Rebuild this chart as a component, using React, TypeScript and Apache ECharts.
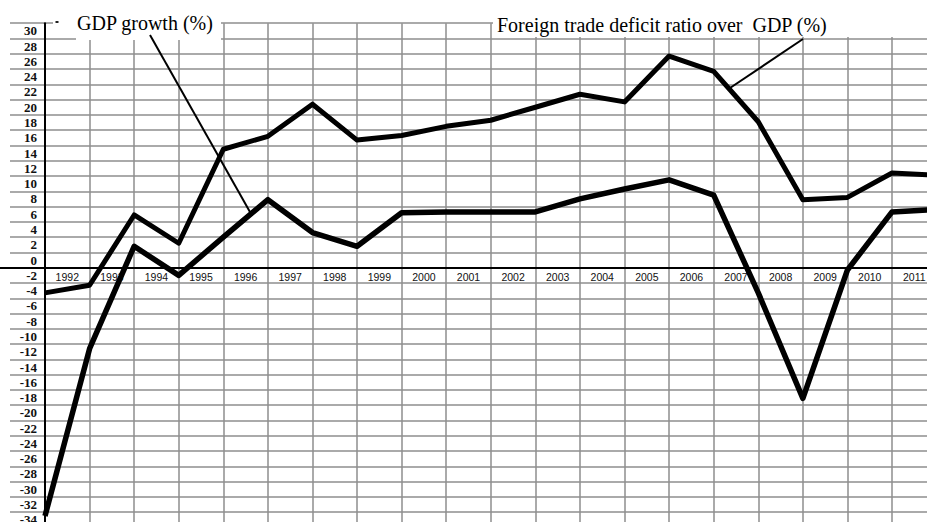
import React, { useEffect, useRef } from "react";
import * as echarts from "echarts";

// Category bands (year labels on the x axis)
const years = [
  "1992", "1993", "1994", "1995", "1996", "1997", "1998", "1999", "2000", "2001",
  "2002", "2003", "2004", "2005", "2006", "2007", "2008", "2009", "2010", "2011",
];
// Points are drawn on the band boundaries (start of each year, plus the end of 2011)
const boundaryPoints = [
  "1992", "1993", "1994", "1995", "1996", "1997", "1998", "1999", "2000", "2001",
  "2002", "2003", "2004", "2005", "2006", "2007", "2008", "2009", "2010", "2011", "2012",
];
// Foreign trade deficit ratio over GDP (%), upper line
const deficitRatio = [
  -4.3, -3.3, 5.9, 2.2, 14.5, 16.2, 20.4, 15.7, 16.3, 17.5,
  18.3, 20.0, 21.7, 20.7, 26.7, 24.7, 18.1, 7.9, 8.2, 11.4, 11.1,
];
// GDP growth (%), lower line
const gdpGrowth = [
  -33.5, -11.6, 1.8, -2.0, 3.0, 7.9, 3.6, 1.8, 6.2, 6.3,
  6.3, 6.3, 8.0, 9.3, 10.5, 8.5, -4.3, -18.1, -1.3, 6.3, 6.6,
];
// Y tick labels
const yTickLabels = [
  -34, -32, -30, -28, -26, -24, -22, -20, -18, -16, -14, -12, -10, -8, -6, -4, -2,
  0, 2, 4, 6, 8, 10, 12, 14, 16, 18, 20, 22, 24, 26, 28, 30,
];

const GRID_COLOR = "#8e8e8e";

export default function App() {
  const ref = useRef<HTMLDivElement>(null);

  useEffect(() => {
    if (!ref.current) return;
    const chart = echarts.init(ref.current, undefined, { renderer: "svg" });
    const serif = '"Liberation Serif", "Times New Roman", serif';
    const sans = '"Liberation Sans", Arial, sans-serif';
    const noBounds = { outerBoundsMode: "none", containLabel: false };
    const hiddenY = (gridIndex: number) => ({
      gridIndex,
      type: "value",
      min: 0,
      max: 1,
      show: false,
    });

    chart.setOption({
      animation: false,
      backgroundColor: "#ffffff",
      grid: [
        // 0: horizontal grid lines (extend left of the axis)
        { left: 10, right: -10, top: 23.2, bottom: -5.46, ...noBounds },
        // 1: plot area (series, vertical grid lines, y axis)
        { left: 45, right: -9.6, top: 23.2, bottom: -5.46, ...noBounds },
        // 2: zero line (its bottom edge sits on value 0)
        { left: 0, right: -10, top: 100, bottom: 254.3, ...noBounds },
        // 3: year labels under the zero line
        { left: 45, right: -9.6, top: 100, bottom: 254.3, ...noBounds },
      ],
      xAxis: [
        { gridIndex: 0, type: "value", min: 0, max: 1, show: false },
        {
          gridIndex: 1,
          type: "category",
          data: years,
          boundaryGap: true,
          axisLine: { show: false, onZero: false },
          axisTick: { show: false },
          axisLabel: { show: false },
          splitLine: { show: true, interval: 0, lineStyle: { color: GRID_COLOR, width: 1.5 } },
        },
        {
          gridIndex: 1,
          type: "category",
          data: boundaryPoints,
          boundaryGap: false,
          show: false,
          axisLine: { onZero: false },
        },
        {
          gridIndex: 2,
          type: "value",
          min: 0,
          max: 1,
          position: "bottom",
          axisLine: { show: true, onZero: false, lineStyle: { color: "#000", width: 2 } },
          axisTick: { show: false },
          axisLabel: { show: false },
          splitLine: { show: false },
        },
        {
          gridIndex: 3,
          type: "category",
          data: years,
          boundaryGap: true,
          position: "bottom",
          axisLine: { show: false, onZero: false },
          axisTick: { show: false },
          splitLine: { show: false },
          axisLabel: {
            interval: 0,
            margin: 4,
            fontFamily: sans,
            fontSize: 10.5,
            color: "#111",
          },
        },
      ],
      yAxis: [
        {
          gridIndex: 0,
          type: "value",
          min: -34,
          max: 32,
          interval: 2,
          axisLine: { show: false },
          axisTick: { show: false },
          axisLabel: { show: false },
          splitLine: { show: true, lineStyle: { color: GRID_COLOR, width: 1.5 } },
        },
        {
          gridIndex: 1,
          type: "value",
          min: -34,
          max: 32,
          interval: 2,
          axisLine: { show: true, onZero: false, lineStyle: { color: "#000", width: 2 } },
          axisTick: { show: false },
          axisLabel: { show: false },
          splitLine: { show: false },
        },
        {
          gridIndex: 1,
          type: "value",
          position: "left",
          min: -35,
          max: 31,
          axisLine: { show: false, onZero: false },
          axisTick: { show: false },
          splitLine: { show: false },
          axisLabel: {
            customValues: yTickLabels,
            margin: 8,
            fontFamily: serif,
            fontWeight: "bold",
            fontSize: 13,
            color: "#111",
          },
        },
        hiddenY(2),
        hiddenY(3),
      ],
      series: [
        {
          name: "Foreign trade deficit ratio over GDP (%)",
          type: "line",
          xAxisIndex: 2,
          yAxisIndex: 2,
          data: deficitRatio,
          symbol: "none",
          silent: true,
          lineStyle: { color: "#000", width: 5, join: "round" },
        },
        {
          name: "GDP growth (%)",
          type: "line",
          xAxisIndex: 2,
          yAxisIndex: 2,
          data: gdpGrowth,
          symbol: "none",
          silent: true,
          lineStyle: { color: "#000", width: 5.5, join: "round" },
        },
      ],
      graphic: [
        { type: "rect", z: 100, shape: { x: 76, y: 0, width: 145, height: 40 }, style: { fill: "#fff" } },
        { type: "rect", z: 100, shape: { x: 53, y: 0, width: 24, height: 31 }, style: { fill: "#fff" } },
        { type: "rect", z: 100, shape: { x: 493, y: 0, width: 440, height: 37 }, style: { fill: "#fff" } },
        { type: "rect", z: 101, shape: { x: 55.5, y: 21, width: 3, height: 2 }, style: { fill: "#222" } },
        {
          type: "text",
          z: 101,
          x: 77,
          y: 23,
          style: {
            text: "GDP growth (%)",
            font: '20px "Liberation Serif", "Times New Roman", serif',
            fill: "#000",
            verticalAlign: "middle",
          },
        },
        {
          type: "text",
          z: 101,
          x: 497,
          y: 25,
          style: {
            text: "Foreign trade deficit ratio over  GDP (%)",
            font: '20px "Liberation Serif", "Times New Roman", serif',
            fill: "#000",
            verticalAlign: "middle",
          },
        },
        {
          type: "line",
          z: 102,
          shape: { x1: 150, y1: 35, x2: 250, y2: 212 },
          style: { stroke: "#000", lineWidth: 2 },
        },
        {
          type: "line",
          z: 102,
          shape: { x1: 803, y1: 39, x2: 730, y2: 88 },
          style: { stroke: "#000", lineWidth: 2 },
        },
      ],
    });

    return () => chart.dispose();
  }, []);

  return (
    <div
      ref={ref}
      style={{ position: "absolute", left: 0, top: 0, width: 927, height: 522, overflow: "hidden" }}
    />
  );
}
